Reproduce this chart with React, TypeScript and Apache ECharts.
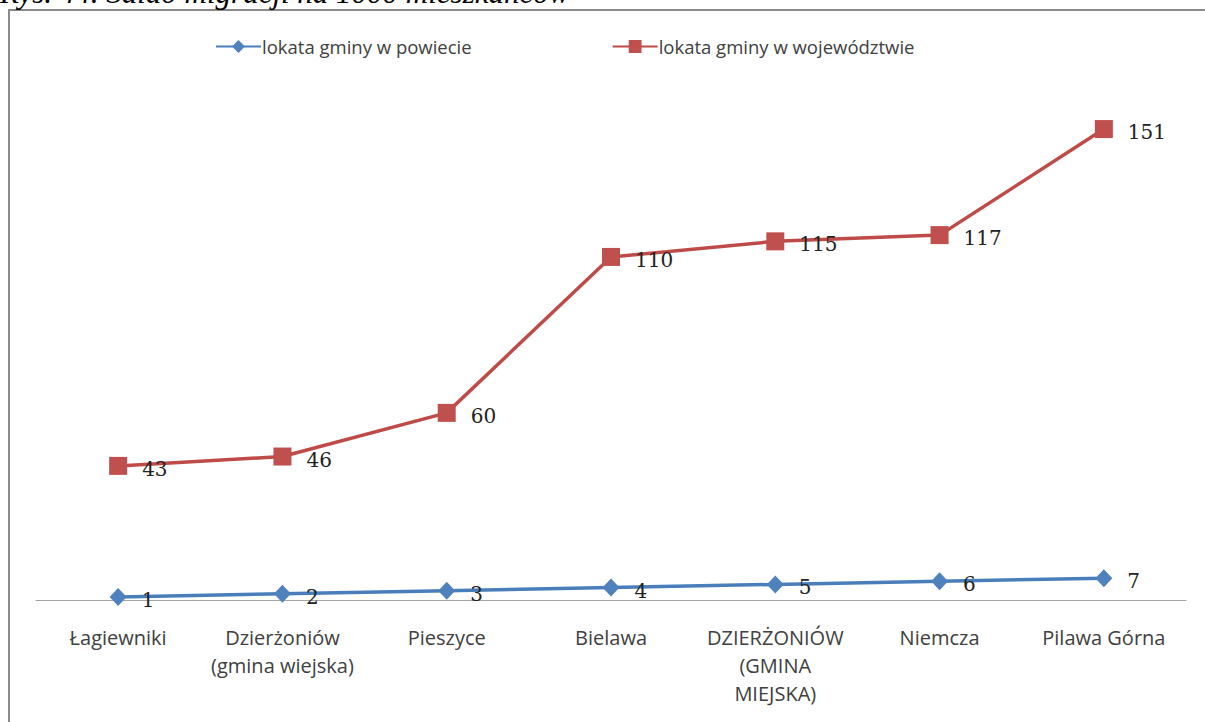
import React, { useEffect, useRef } from "react";
import * as echarts from "echarts";

const caption = "Rys. 44. Saldo migracji na 1000 mieszkańców";
const categories = [
  "Łagiewniki",
  "Dzierżoniów (gmina wiejska)",
  "Pieszyce",
  "Bielawa",
  "DZIERŻONIÓW (GMINA MIEJSKA)",
  "Niemcza",
  "Pilawa Górna",
];
const tickLabels = [
  "Łagiewniki",
  "Dzierżoniów\n(gmina wiejska)",
  "Pieszyce",
  "Bielawa",
  "DZIERŻONIÓW\n(GMINA\nMIEJSKA)",
  "Niemcza",
  "Pilawa Górna",
];
const seriesPowiatName = "lokata gminy w powiecie";
const seriesWojName = "lokata gminy w województwie";
const powiatValues = [1, 2, 3, 4, 5, 6, 7];
const wojValues = [43, 46, 60, 110, 115, 117, 151];

export default function App() {
  const ref = useRef<HTMLDivElement>(null);
  useEffect(() => {
    const chart = echarts.init(ref.current!, null, { renderer: "svg" });
    const labelStyle = {
      show: true,
      position: "right" as const,
      distance: 15,
      offset: [0, 3],
      fontFamily: "DejaVu Serif",
      fontSize: 20,
      color: "#222222",
    };
    chart.setOption({
      animation: false,
      backgroundColor: "#ffffff",
      graphic: [
        {
          type: "rect",
          silent: true,
          shape: { x: 9, y: 10, width: 1200, height: 730 },
          style: { fill: "none", stroke: "#8a8a8a", lineWidth: 2 },
          z: -1,
        },
        {
          type: "text",
          x: 0,
          y: -8,
          style: {
            text: caption,
            font: "italic 31px 'Liberation Serif'",
            fill: "#000000",
            verticalAlign: "middle",
            align: "left",
          },
        },
      ],
      legend: {
        top: 32,
        left: 210,
        itemWidth: 45,
        itemHeight: 16,
        itemGap: 140,
        textStyle: { fontFamily: "Open Sans", fontSize: 18.5, color: "#404040", padding: [0, 0, 0, -4] },
        data: [seriesPowiatName, seriesWojName],
      },
      grid: { left: 36, right: 19, top: 101, bottom: 122 },
      xAxis: {
        type: "category",
        data: categories,
        boundaryGap: true,
        axisLine: { lineStyle: { color: "#a6a6a6", width: 1 } },
        axisTick: { show: false },
        axisLabel: {
          interval: 0,
          margin: 23,
          color: "#404040",
          fontFamily: "Open Sans",
          fontSize: 20,
          lineHeight: 28,
          formatter: (_v: string, i: number) => tickLabels[i],
        },
      },
      yAxis: {
        type: "value",
        min: 0,
        max: 160,
        show: false,
        splitLine: { show: false },
      },
      series: [
        {
          name: seriesPowiatName,
          type: "line",
          data: powiatValues,
          color: "#4F81BD",
          symbol: "diamond",
          symbolSize: [17, 18],
          lineStyle: { width: 3.5, color: "#4A7EBB" },
          itemStyle: { color: "#4F81BD" },
          label: labelStyle,
          z: 3,
        },
        {
          name: seriesWojName,
          type: "line",
          data: wojValues,
          color: "#C0504D",
          symbol: "rect",
          symbolSize: 18,
          lineStyle: { width: 3.5, color: "#BE4B48" },
          itemStyle: { color: "#C0504D" },
          label: labelStyle,
          z: 2,
        },
      ],
    });
    return () => chart.dispose();
  }, []);
  return (
    <div
      ref={ref}
      style={{ position: "fixed", left: 0, top: 0, width: 1205, height: 722 }}
    />
  );
}
